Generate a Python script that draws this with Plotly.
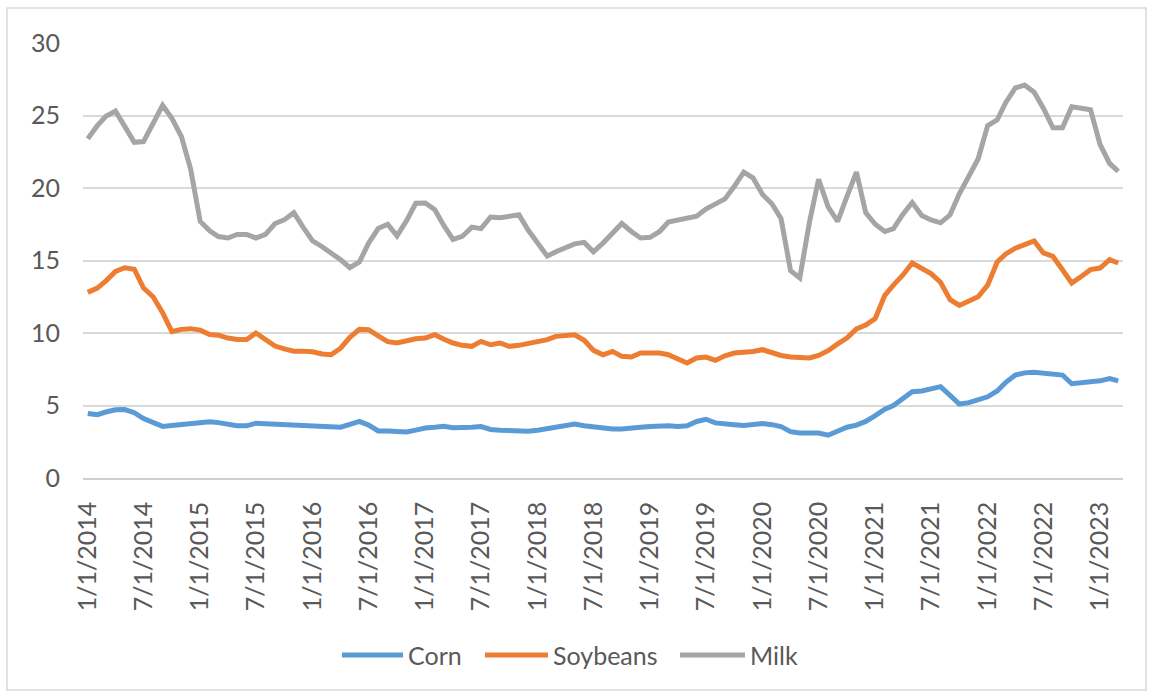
import pandas as pd
import plotly.graph_objects as go

# Monthly series, Jan 2014 through Mar 2023
months = pd.date_range("2014-01-01", periods=111, freq="MS")

corn = [4.45, 4.37, 4.55, 4.7, 4.72, 4.5, 4.1, 3.8, 3.56, 3.62,
        3.68, 3.78, 3.88, 3.88, 3.82, 3.7, 3.6, 3.6, 3.78, 3.75,
        3.72, 3.68, 3.68, 3.68, 3.65, 3.6, 3.56, 3.5, 3.7, 3.9,
        3.65, 3.25, 3.25, 3.2, 3.17, 3.3, 3.45, 3.5, 3.56, 3.47,
        3.45, 3.5, 3.55, 3.35, 3.3, 3.28, 3.25, 3.22, 3.3, 3.42,
        3.55, 3.68, 3.72, 3.6, 3.5, 3.4, 3.38, 3.38, 3.4, 3.5,
        3.55, 3.6, 3.6, 3.55, 3.6, 3.9, 4.05, 3.8, 3.7, 3.68,
        3.62, 3.65, 3.75, 3.68, 3.55, 3.2, 3.1, 3.1, 3.1, 2.95,
        3.2, 3.5, 3.65, 3.9, 4.3, 4.75, 5.0, 5.5, 5.95, 6.0,
        6.15, 6.3, 5.7, 5.1, 5.2, 5.4, 5.6, 6.0, 6.6, 7.1,
        7.25, 7.3, 7.25, 7.2, 7.1, 6.5, 6.55, 6.6, 6.7, 6.85,
        6.7]

soybeans = [12.8, 13.1, 13.6, 14.25, 14.5, 14.4, 13.1, 12.5, 11.4, 10.1,
            10.25, 10.3, 10.2, 9.9, 9.85, 9.65, 9.55, 9.55, 10.0, 9.6,
            9.1, 8.9, 8.75, 8.75, 8.7, 8.55, 8.5, 8.95, 9.7, 10.25,
            10.23, 9.8, 9.4, 9.31, 9.48, 9.6, 9.65, 9.88, 9.58, 9.31,
            9.15, 9.08, 9.42, 9.19, 9.31, 9.08, 9.15, 9.27, 9.38, 9.54,
            9.77, 9.85, 9.88, 9.5, 8.8, 8.5, 8.73, 8.39, 8.34, 8.62,
            8.66, 8.62, 8.5, 8.2, 7.93, 8.28, 8.34, 8.11, 8.43, 8.62,
            8.66, 8.73, 8.85, 8.62, 8.45, 8.34, 8.28, 8.28, 8.45, 8.78,
            9.25, 9.65, 10.28, 10.55, 11.0, 12.6, 13.3, 14.0, 14.83, 14.5,
            14.1, 13.5, 12.3, 11.9, 12.2, 12.5, 13.3, 14.9, 15.45, 15.85,
            16.1, 16.35, 15.52, 15.28, 14.36, 13.45, 13.9, 14.37, 14.48, 15.06,
            14.83]

milk = [23.4, 24.3, 24.95, 25.3, 24.25, 23.15, 23.2, 24.4, 25.7, 24.8,
        23.55, 21.3, 17.7, 17.05, 16.65, 16.55, 16.8, 16.8, 16.55, 16.8,
        17.55, 17.8, 18.3, 17.3, 16.35, 15.95, 15.55, 15.05, 14.5, 14.9,
        16.2, 17.2, 17.5, 16.7, 17.75, 18.95, 18.97, 18.5, 17.45, 16.45,
        16.66, 17.3, 17.2, 18.0, 17.95, 18.05, 18.15, 17.1, 16.15, 15.3,
        15.6, 15.85, 16.15, 16.25, 15.6, 16.2, 16.95, 17.55, 17.0, 16.55,
        16.6, 17.0, 17.65, 17.8, 17.93, 18.05, 18.55, 18.9, 19.25, 20.1,
        21.1, 20.7, 19.55, 18.9, 17.9, 14.3, 13.8, 17.6, 20.6, 18.7,
        17.7, 19.4, 21.1, 18.3, 17.5, 17.0, 17.2, 18.2, 19.0, 18.1,
        17.8, 17.6, 18.15, 19.6, 20.8, 22.0, 24.3, 24.7, 25.9, 26.9,
        27.1, 26.6, 25.5, 24.15, 24.15, 25.6, 25.5, 25.4, 23.0, 21.7,
        21.15]

tick_labels = ["1/1/2014", "7/1/2014", "1/1/2015", "7/1/2015", "1/1/2016",
               "7/1/2016", "1/1/2017", "7/1/2017", "1/1/2018", "7/1/2018",
               "1/1/2019", "7/1/2019", "1/1/2020", "7/1/2020", "1/1/2021",
               "7/1/2021", "1/1/2022", "7/1/2022", "1/1/2023"]

series_names = ["Corn", "Soybeans", "Milk"]
series_colors = ["#5B9BD5", "#ED7D31", "#A5A5A5"]

FONT = "Lato, 'Open Sans', sans-serif"
TEXT_COLOR = "#595959"
GRID_COLOR = "#D9D9D9"

W, H = 1153, 698
PLOT_L, PLOT_R, PLOT_T, PLOT_B = 83, 1123, 43, 478

# Each month occupies one slot; points sit in the middle of their slot
half = pd.Timedelta(days=15.5)
x_start = months[0] - half
x_end = months[-1] + half
tick_dates = pd.to_datetime(tick_labels, format="%m/%d/%Y")
slot_edges = list(tick_dates - half) + [x_end]

fig = go.Figure()
for name, vals, color in zip(series_names, [corn, soybeans, milk], series_colors):
    fig.add_trace(go.Scatter(
        x=months, y=vals, mode="lines", name=name,
        line=dict(color=color, width=5, shape="linear"),
        showlegend=False, hoverinfo="skip",
    ))


def px_x(p):
    return (p - PLOT_L) / (PLOT_R - PLOT_L)


def px_y(p):
    return (PLOT_B - p) / (PLOT_B - PLOT_T)


shapes = []
annotations = []

# Legend row below the axis labels
legend_y = px_y(655)
legend_items = [(342, 403, 406), (485, 548, 551), (680, 745, 748)]
for (x0, x1, xt), name, color in zip(legend_items, series_names, series_colors):
    shapes.append(dict(type="line", xref="paper", yref="paper",
                       x0=px_x(x0), x1=px_x(x1), y0=legend_y, y1=legend_y,
                       line=dict(color=color, width=5)))
    annotations.append(dict(text=name, xref="paper", yref="paper",
                            x=px_x(xt), y=legend_y, xanchor="left", yanchor="middle",
                            showarrow=False,
                            font=dict(family=FONT, size=25, color=TEXT_COLOR)))

# Chart frame
shapes.append(dict(type="rect", xref="paper", yref="paper",
                   x0=px_x(7), x1=px_x(1146), y0=px_y(690), y1=px_y(8),
                   line=dict(color="#D9D9D9", width=1.5), layer="below"))

fig.update_layout(
    width=W, height=H,
    margin=dict(l=PLOT_L, r=W - PLOT_R, t=PLOT_T, b=H - PLOT_B),
    paper_bgcolor="white", plot_bgcolor="white",
    font=dict(family=FONT, size=25, color=TEXT_COLOR),
    showlegend=False,
    xaxis=dict(
        type="date", range=[x_start, x_end],
        tickmode="array", tickvals=tick_dates, ticktext=tick_labels,
        tickangle=-90, ticks="", showgrid=False, zeroline=False,
        showline=True, linecolor="#CFCFCF", linewidth=1.5,
        ticklabelstandoff=12,
        tickfont=dict(family=FONT, size=25, color=TEXT_COLOR),
    ),
    xaxis2=dict(
        type="date", range=[x_start, x_end], overlaying="x", anchor="y",
        side="bottom", tickmode="array", tickvals=slot_edges,
        ticks="outside", ticklen=6, tickwidth=1.5, tickcolor="#CFCFCF",
        showticklabels=False, showgrid=False, zeroline=False, showline=False,
    ),
    yaxis=dict(
        range=[0, 30], tickmode="array", tickvals=[0, 5, 10, 15, 20, 25, 30],
        showgrid=True, gridcolor=GRID_COLOR, gridwidth=1.5,
        zeroline=False, showline=False, ticks="",
        ticklabelstandoff=22,
        tickfont=dict(family=FONT, size=25, color=TEXT_COLOR),
    ),
    shapes=shapes,
    annotations=annotations,
)

fig.write_html("out.html")
